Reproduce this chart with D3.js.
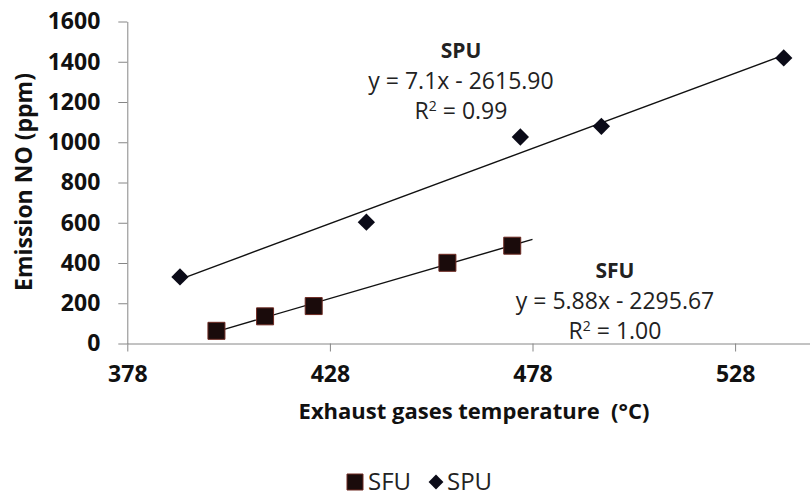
<!DOCTYPE html>
<html>
<head>
<meta charset="utf-8">
<script src="https://cdn.jsdelivr.net/npm/d3@7"></script>
<style>
  body { margin: 0; background: #fff; }
  text { font-family: "Open Sans", sans-serif; }
</style>
</head>
<body>
<svg id="chart" width="810" height="497"></svg>
<script>
// values
const sfuTemp = [400, 412, 424, 457, 473];
const sfuNO = [63, 135, 186, 401, 486];
const spuTemp = [391, 437, 475, 495, 540];
const spuNO = [331, 603, 1026, 1079, 1419];
const xTicks = [378, 428, 478, 528];
const yTicks = [0, 200, 400, 600, 800, 1000, 1200, 1400, 1600];
const sfuForward = 5; // trendline forecast past last point
const sfuLabel = ["SFU", "y = 5.88x - 2295.67", "R² = 1.00"];
const spuLabel = ["SPU", "y = 7.1x - 2615.90", "R² = 0.99"];

const svg = d3.select("#chart");
svg.append("rect").attr("width", 810).attr("height", 497).attr("fill", "#fff");

// x axis runs on past the right edge of the picture
const x = d3.scaleLinear().domain([378, 578]).range([127.3, 937.7]);
const y = d3.scaleLinear().domain([0, 1600]).range([343.5, 21.5]);

// least squares line
function fit(xs, ys) {
    const mx = d3.mean(xs), my = d3.mean(ys);
    const b = d3.sum(xs, (v, i) => (v - mx) * (ys[i] - my)) / d3.sum(xs, v => (v - mx) ** 2);
    return t => my + b * (t - mx);
}

const axisColor = "#868686";

const gx = svg.append("g").attr("transform", `translate(0,${y(0)})`)
    .call(d3.axisBottom(x).tickValues(xTicks).tickFormat(d3.format("d")).tickSize(8).tickSizeOuter(0));
gx.select(".domain").attr("stroke", axisColor);
gx.selectAll(".tick line").attr("stroke", axisColor);
gx.selectAll(".tick text").attr("y", 38.5).attr("dy", 0)
    .style("font-size", "23px").style("font-weight", 700).attr("fill", "#111");

const gy = svg.append("g").attr("transform", `translate(${x(378)},0)`)
    .call(d3.axisLeft(y).tickValues(yTicks).tickFormat(d3.format("d")).tickSize(9).tickPadding(18).tickSizeOuter(0));
gy.select(".domain").attr("stroke", axisColor);
gy.selectAll(".tick line").attr("stroke", axisColor);
gy.selectAll(".tick text").style("font-size", "23px").style("font-weight", 700).attr("fill", "#111");

// trendlines
const line = d3.line().x(d => x(d[0])).y(d => y(d[1]));
const sfuFit = fit(sfuTemp, sfuNO);
const spuFit = fit(spuTemp, spuNO);
const sfuEnds = [d3.min(sfuTemp), d3.max(sfuTemp) + sfuForward];
const spuEnds = d3.extent(spuTemp);
svg.append("path").attr("d", line(spuEnds.map(t => [t, spuFit(t)])))
    .attr("stroke", "#111").attr("stroke-width", 1.4).attr("fill", "none");
svg.append("path").attr("d", line(sfuEnds.map(t => [t, sfuFit(t)])))
    .attr("stroke", "#111").attr("stroke-width", 1.4).attr("fill", "none");

// markers
const square = d3.symbol(d3.symbolSquare, 289);
const diamond = d3.symbol(d3.symbolSquare, 150);
svg.append("g").selectAll("path").data(sfuTemp).join("path")
    .attr("d", square)
    .attr("transform", (d, i) => `translate(${x(d)},${y(sfuNO[i])})`)
    .attr("fill", "#1a0b0b").attr("stroke", "#6e2a22").attr("stroke-width", 1);
svg.append("g").selectAll("path").data(spuTemp).join("path")
    .attr("d", diamond)
    .attr("transform", (d, i) => `translate(${x(d)},${y(spuNO[i])}) rotate(45)`)
    .attr("fill", "#0b0b18");

// equation labels
function eqBlock(lines, cx, top) {
    const g = svg.append("g").attr("fill", "#222").attr("text-anchor", "middle");
    lines.forEach((s, i) => {
        const t = g.append("text").attr("x", cx).attr("y", top + i * 30.5)
            .style("font-size", i === 0 ? "21px" : "23px")
            .style("font-weight", i === 0 ? 700 : 400);
        if (s.startsWith("R²")) {
            t.text("R");
            t.append("tspan").text("2").attr("dy", -8).style("font-size", "14px");
            t.append("tspan").text(s.slice(2)).attr("dy", 8);
        } else {
            t.text(s);
        }
    });
}
eqBlock(spuLabel, 461, 58);
eqBlock(sfuLabel, 615, 278);

// axis titles
svg.append("text").attr("x", 474).attr("y", 419).attr("text-anchor", "middle")
    .style("font-size", "22px").style("font-weight", 700).attr("fill", "#111")
    .text("Exhaust gases temperature\u00a0\u00a0(°C)");
svg.append("text").attr("transform", "translate(32,182) rotate(-90)").attr("text-anchor", "middle")
    .style("font-size", "23px").style("font-weight", 700).attr("fill", "#111")
    .text("Emission NO (ppm)");

// legend
const lg = svg.append("g");
lg.append("path").attr("d", d3.symbol(d3.symbolSquare, 256))
    .attr("transform", "translate(355,482)").attr("fill", "#1a0b0b").attr("stroke", "#6e2a22");
lg.append("text").attr("x", 368).attr("y", 490).style("font-size", "24px").attr("fill", "#222").text("SFU");
lg.append("path").attr("d", d3.symbol(d3.symbolSquare, 110))
    .attr("transform", "translate(436,482) rotate(45)").attr("fill", "#0b0b18");
lg.append("text").attr("x", 447).attr("y", 490).style("font-size", "24px").attr("fill", "#222").text("SPU");
</script>
</body>
</html>
